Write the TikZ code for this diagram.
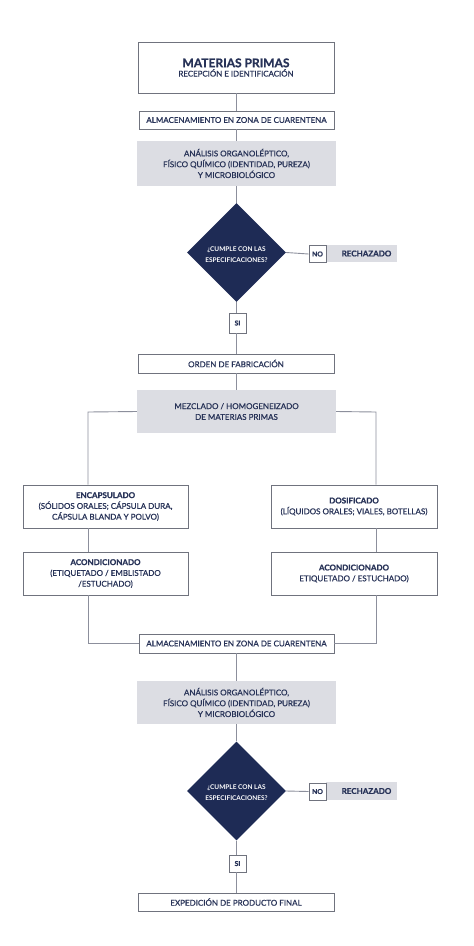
\documentclass[tikz,border=0pt]{standalone}
\usepackage{fontspec}
\setmainfont{Lato}
\newfontfamily\latomed{Lato}[FakeBold=0.8]
\newcommand{\smlab}{\bfseries\fontsize{6.8}{8}\selectfont}
\usetikzlibrary{shapes.geometric,calc}
\definecolor{navy}{HTML}{283358}
\definecolor{dnavy}{HTML}{1E2B55}
\definecolor{lgray}{HTML}{DCDDE3}
\definecolor{lcol}{HTML}{8C8F9C}
\definecolor{bcol}{HTML}{70737E}
\tikzset{
  txt/.style={font=\latomed\fontsize{8}{10.8}\selectfont, text=navy, align=center, inner sep=0pt},
  wbox/.style={txt, draw=bcol, line width=0.9pt, fill=white},
  gbox/.style={txt, fill=lgray},
  dia/.style={diamond, fill=dnavy, minimum width=99pt, minimum height=99pt, inner sep=0pt},
  diatxt/.style={font=\bfseries\fontsize{6.5}{10.8}\selectfont, text=white, align=center, inner sep=0pt},
  conn/.style={draw=lcol, line width=0.9pt}
}
\begin{document}
\begin{tikzpicture}[x=1pt,y=-1pt]
\useasboundingbox (0,0) rectangle (474,946);
\fill[white] (0,0) rectangle (474,946);

\coordinate (bl) at (88,412);
\coordinate (br) at (376,412);

\node[wbox, minimum width=196pt, minimum height=51pt] (mp) at (236,67.5)
  {{\bfseries\fontsize{12}{13}\selectfont MATERIAS PRIMAS}\\[-1.5pt]{\fontsize{7.9}{9}\selectfont RECEPCIÓN E IDENTIFICACIÓN}};
\node[wbox, minimum width=195pt, minimum height=18pt] (alm1) at (236.5,120) {ALMACENAMIENTO EN ZONA DE CUARENTENA};
\node[gbox, minimum width=199pt, minimum height=45pt] (an1) at (236.5,163.5)
  {ANÁLISIS ORGANOLÉPTICO,\\FÍSICO QUÍMICO (IDENTIDAD, PUREZA)\\Y MICROBIOLÓGICO};
\node[dia] (d1) at (236.5,252.5) {};
\node[diatxt] (d1t) at (236.5,254.5) {¿CUMPLE CON LAS\\ESPECIFICACIONES?};
\node[gbox, minimum width=71pt, minimum height=17pt] (rej1) at (361.5,253.5) {\hspace*{10pt}\bfseries RECHAZADO};
\node[wbox, minimum width=17pt, minimum height=16.5pt] (no1) at (317.5,254) {\smlab NO};
\node[wbox, minimum width=17pt, minimum height=20pt] (si1) at (237.5,323) {\smlab SI};
\node[wbox, minimum width=196pt, minimum height=19pt] (ord) at (236,363.5) {ORDEN DE FABRICACIÓN};
\node[gbox, minimum width=199pt, minimum height=43pt] (mez) at (236.5,411.5)
  {MEZCLADO / HOMOGENEIZADO\\DE MATERIAS PRIMAS};
\node[wbox, minimum width=165pt, minimum height=43pt] (enc) at (105.5,506.5)
  {{\bfseries ENCAPSULADO}\\(SÓLIDOS ORALES; CÁPSULA DURA,\\CÁPSULA BLANDA Y POLVO)};
\node[wbox, minimum width=166pt, minimum height=43pt] (dos) at (354,506.5)
  {{\bfseries DOSIFICADO}\\(LÍQUIDOS ORALES; VIALES, BOTELLAS)};
\node[wbox, minimum width=165pt, minimum height=43pt] (acl) at (105.5,573.5)
  {{\bfseries ACONDICIONADO}\\(ETIQUETADO / EMBLISTADO\\/ESTUCHADO)};
\node[wbox, minimum width=166pt, minimum height=43pt] (acr) at (354,573.5)
  {{\bfseries ACONDICIONADO}\\ETIQUETADO / ESTUCHADO)};
\node[wbox, minimum width=195pt, minimum height=19pt] (alm2) at (236.5,643.5) {ALMACENAMIENTO EN ZONA DE CUARENTENA};
\node[gbox, minimum width=199pt, minimum height=43pt] (an2) at (236.5,702.5)
  {ANÁLISIS ORGANOLÉPTICO,\\FÍSICO QUÍMICO (IDENTIDAD, PUREZA)\\Y MICROBIOLÓGICO};
\node[dia] (d2) at (236.5,791) {};
\node[diatxt] (d2t) at (236.5,793) {¿CUMPLE CON LAS\\ESPECIFICACIONES?};
\node[gbox, minimum width=71pt, minimum height=18pt] (rej2) at (361.5,791) {\hspace*{10pt}\bfseries RECHAZADO};
\node[wbox, minimum width=17pt, minimum height=17pt] (no2) at (317.5,791.5) {\smlab NO};
\node[wbox, minimum width=17pt, minimum height=17pt] (si2) at (237.5,863.5) {\smlab SI};
\node[wbox, minimum width=196pt, minimum height=18pt] (exp) at (236,902) {EXPEDICIÓN DE PRODUCTO FINAL};

% connectors
\path[conn] (mp.south -| 236.5,0) -- (alm1.north);
\path[conn] (alm1.south) -- (an1.north);
\path[conn] (an1.south) -- (d1.north);
\path[conn] (d1.east) -- (no1.west);
\path[conn] (d1.south) -- (d1.south |- si1.north);
\path[conn] (d1.south |- si1.south) -- (d1.south |- ord.north);
\path[conn] (d1.south |- ord.south) -- (mez.north);
\path[conn] (mez.west) -- (bl) -- (bl |- enc.north);
\path[conn] (mez.east) -- (br) -- (br |- dos.north);
\path[conn] (bl |- enc.south) -- (bl |- acl.north);
\path[conn] (br |- dos.south) -- (br |- acr.north);
\path[conn] (bl |- acl.south) -- (bl |- alm2) -- (alm2.west);
\path[conn] (br |- acr.south) -- (br |- alm2) -- (alm2.east);
\path[conn] (alm2.south) -- (an2.north);
\path[conn] (an2.south) -- (d2.north);
\path[conn] (d2.east) -- (no2.west);
\path[conn] (d2.south) -- (d2.south |- si2.north);
\path[conn] (d2.south |- si2.south) -- (d2.south |- exp.north);
\end{tikzpicture}
\end{document}
